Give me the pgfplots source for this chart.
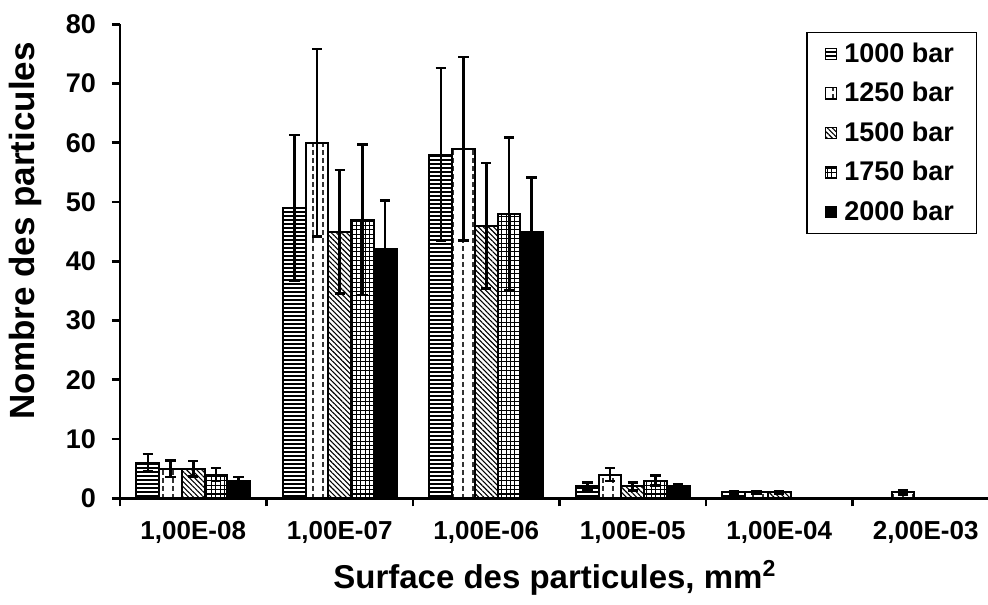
\documentclass[border=0pt]{standalone}
\usepackage{fontspec}
\setmainfont{Liberation Sans}
\usepackage{pgfplots}
\pgfplotsset{compat=1.18}
\usetikzlibrary{patterns,patterns.meta}

\tikzdeclarepattern{
  name=vdashes,
  type=uncolored,
  bounding box={(-0.5pt,-0.5pt) and (5.5pt,4.5pt)},
  tile size={(5pt,4pt)},
  code={\draw[line width=0.8pt] (1.5pt,0.6pt) -- (1.5pt,2.8pt);}
}
\tikzdeclarepattern{
  name=fgrid,
  type=uncolored,
  bounding box={(-0.5pt,-0.5pt) and (2.7pt,2.7pt)},
  tile size={(2.2pt,2.2pt)},
  code={\draw[line width=0.5pt] (0pt,0pt) -- (2.2pt,0pt) (0pt,0pt) -- (0pt,2.2pt);}
}

\pgfplotsset{
  errb/.style={
    error bars/.cd, y dir=both, y explicit,
    error bar style={line width=1.3pt, black, solid},
    error mark options={rotate=90, mark size=2.6pt, line width=1.3pt, black, solid},
  }
}

\pgfplotstableread{
x y e
0 6 1.5
1 49 12.3
2 58 14.6
3 2 0.7
4 1 0.25
}\tA
\pgfplotstableread{
x y e
0 5 1.4
1 60 15.8
2 59 15.5
3 4 1.1
4 1 0.25
5 1 0.35
}\tB
\pgfplotstableread{
x y e
0 5 1.3
1 45 10.4
2 46 10.6
3 2 0.7
4 1 0.25
}\tC
\pgfplotstableread{
x y e
0 4 1.1
1 47 12.7
2 48 12.9
3 3 0.8
}\tD
\pgfplotstableread{
x y e
0 3 0.6
1 42 8.3
2 45 9.1
3 2 0.3
}\tE

\begin{document}
\begin{tikzpicture}
\begin{axis}[
  at={(0pt,0pt)}, anchor=south west,
  scale only axis,
  width=434pt, height=237pt,
  xmin=-0.5, xmax=5.425,
  ymin=0, ymax=80,
  ybar=0pt, bar width=11.36pt,
  axis x line*=bottom, axis y line*=left,
  axis line style={line width=1.3pt, -},
  tick align=outside,
  major tick length=4pt,
  tick style={line width=1.3pt, black},
  xtick={-0.5,0.5,1.5,2.5,3.5,4.5},
  xticklabels={{1,00E-08},{1,00E-07},{1,00E-06},{1,00E-05},{1,00E-04},{2,00E-03}},
  xticklabel style={xshift=36.625pt, yshift=-4pt, font=\bfseries\fontsize{13}{15}\selectfont},
  ytick={0,10,...,80},
  yticklabel style={xshift=-4.5pt, font=\bfseries\fontsize{13.5}{15}\selectfont},
  /pgf/number format/assume math mode=true,
  xlabel={Surface des particules, mm\textsuperscript{2}},
  ylabel={Nombre des particules},
  xlabel style={font=\bfseries\fontsize{16.5}{18}\selectfont, at={(axis description cs:0.501,-0.168)}, anchor=center},
  ylabel style={font=\bfseries\fontsize{17.5}{19}\selectfont, at={(axis description cs:-0.1094,0.564)}, anchor=center},
  legend style={at={(axis description cs:0.9873,0.9838)}, anchor=north east,
    draw=black, line width=0.6pt, font=\bfseries\fontsize{13.5}{15}\selectfont,
    row sep=8.5pt, inner xsep=9pt, inner ysep=5pt,
    nodes={inner xsep=2.2pt, inner ysep=0pt},
    /tikz/every odd column/.append style={column sep=1.3pt}},
  legend cell align=left,
  legend image code/.code={\draw[#1, line width=0.6pt] (0pt,-2.8pt) rectangle (5.6pt,2.8pt);},
]
\addplot[draw=black, line width=1pt, pattern={Lines[angle=0,distance=2pt,line width=1pt]}, pattern color=black, errb]
  table[x=x, y=y, y error=e]{\tA};
\addlegendentry{1000 bar}
\addplot[draw=black, line width=1pt, fill=white, postaction={pattern=vdashes, pattern color=black!80}, errb]
  table[x=x, y=y, y error=e]{\tB};
\addlegendentry{1250 bar}
\addplot[draw=black, line width=1pt, pattern={Lines[angle=-45,distance=1.8pt,line width=0.55pt]}, pattern color=black, errb]
  table[x=x, y=y, y error=e]{\tC};
\addlegendentry{1500 bar}
\addplot[draw=black, line width=1pt, pattern=fgrid, pattern color=black, errb]
  table[x=x, y=y, y error=e]{\tD};
\addlegendentry{1750 bar}
\addplot[draw=black, line width=1pt, fill=black, errb]
  table[x=x, y=y, y error=e]{\tE};
\addlegendentry{2000 bar}
\end{axis}
\pgfresetboundingbox
\useasboundingbox (-60pt,-52.85pt) rectangle (434pt,249.15pt);
\end{tikzpicture}
\end{document}
